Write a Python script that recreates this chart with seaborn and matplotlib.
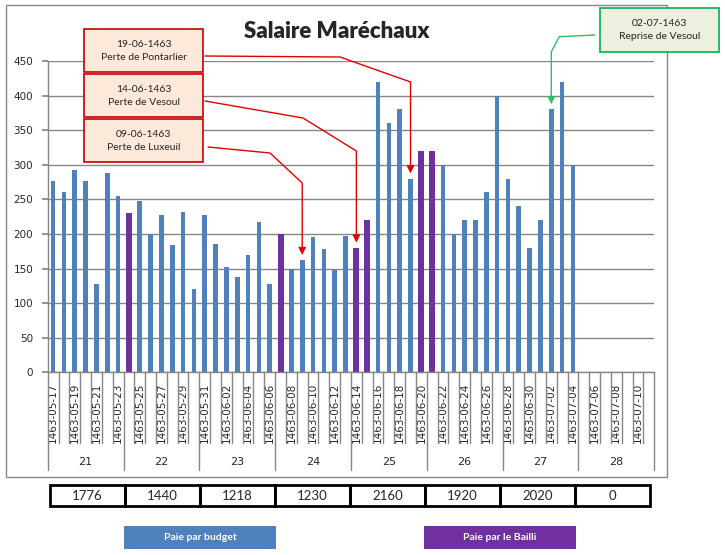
import matplotlib
matplotlib.use("Agg")
import matplotlib.pyplot as plt
import matplotlib.transforms as mtransforms
from matplotlib.patches import Rectangle, Polygon
from matplotlib.lines import Line2D
import seaborn as sns
import pandas as pd
import numpy as np

# ---------------- data ----------------
dates = ([f"1463-05-{d:02d}" for d in range(17, 32)]
         + [f"1463-06-{d:02d}" for d in range(1, 31)]
         + [f"1463-07-{d:02d}" for d in range(1, 12)])

values = [276, 261, 292, 276, 128, 288, 255,
          230, 247, 200, 228, 184, 231, 120,
          228, 186, 152, 138, 169, 217, 128,
          200, 150, 162, 195, 178, 148, 197,
          180, 220, 420, 360, 380, 280, 320,
          320, 300, 200, 220, 220, 260, 400,
          280, 240, 180, 220, 380, 420, 300]

payer = ["budget"] * 7 + \
        ["bailli"] + ["budget"] * 6 + \
        ["budget"] * 7 + \
        ["bailli"] + ["budget"] * 6 + \
        ["bailli", "bailli", "budget", "budget", "budget", "budget", "bailli"] + \
        ["bailli"] + ["budget"] * 6 + \
        ["budget"] * 7

weeks = ["21", "22", "23", "24", "25", "26", "27", "28"]
week_totals = [1776, 1440, 1218, 1230, 2160, 1920, 2020, 0]

title = "Salaire Maréchaux"
legend_labels = ["Paie par budget", "Paie par le Bailli"]

# annotations: (date, line1, line2)
red_notes = [("1463-06-19", "19-06-1463", "Perte de Pontarlier"),
             ("1463-06-14", "14-06-1463", "Perte de Vesoul"),
             ("1463-06-09", "09-06-1463", "Perte de Luxeuil")]
green_note = ("1463-07-02", "02-07-1463", "Reprise de Vesoul")

BLUE = "#4f81bd"
PURPLE = "#7030a0"
GRID = "#868686"

df = pd.DataFrame({"date": dates[:len(values)], "value": values, "payer": payer})

# ---------------- figure ----------------
sns.set_theme(style="white")
plt.rcParams["font.family"] = ["DejaVu Sans"]

W, H = 725, 555
fig = plt.figure(figsize=(W / 100, H / 100), dpi=100)
fig.patch.set_facecolor("white")

# pixel transform (x right, y down, origin top-left)
pix = mtransforms.Affine2D().scale(1 / W, -1 / H).translate(0, 1) + fig.transFigure

x_left, x_right, y_top, y_bot = 47.7, 654.2, 61.0, 372.3
ax = fig.add_axes([x_left / W, 1 - y_bot / H, (x_right - x_left) / W, (y_bot - y_top) / H])

sns.barplot(data=df[df.payer == "budget"], x="date", y="value", order=dates,
            color=BLUE, saturation=1, width=0.43, errorbar=None, ax=ax,
            linewidth=0, edgecolor="none")
sns.barplot(data=df[df.payer == "bailli"], x="date", y="value", order=dates,
            color=PURPLE, saturation=1, width=0.55, errorbar=None, ax=ax,
            linewidth=0, edgecolor="none")

ax.set_xlim(-0.5, len(dates) - 0.5)
ax.set_ylim(0, 450)
ax.set_yticks(np.arange(0, 451, 50))
ax.yaxis.grid(True, color=GRID, lw=1)
ax.set_axisbelow(True)
for s in ["top", "right"]:
    ax.spines[s].set_visible(False)
for s in ["left", "bottom"]:
    ax.spines[s].set_color(GRID)
    ax.spines[s].set_linewidth(1)
ax.set_facecolor("white")
ax.set_xlabel("")
ax.set_ylabel("")
ax.tick_params(axis="y", length=4, color=GRID, direction="out", labelsize=7.5,
               pad=6.5, left=True)
ax.set_xticks(range(0, len(dates), 2))
ax.set_xticklabels(dates[0::2], rotation=90, fontsize=7.5)
ax.tick_params(axis="x", length=0, pad=7.5, bottom=False)

# category separators
blend = mtransforms.blended_transform_factory(ax.transData, pix)
for b in range(len(dates) + 1):
    xb = b - 0.5
    y_end = 470 if b % 7 == 0 else 443
    fig.add_artist(Line2D([xb, xb], [y_bot, y_end], transform=blend, color=GRID, lw=1))

# week labels
for i, wk in enumerate(weeks):
    fig.text(i * 7 + 3, 462, wk, transform=blend, ha="center", va="center", fontsize=8)

# outer frame
fig.add_artist(Rectangle((6, 5), 661, 472, transform=pix, fill=False,
                         edgecolor=GRID, lw=1))

# title
fig.text(337, 31, title, transform=pix, ha="center", va="center",
         fontsize=16, fontweight="heavy", family=["Lato", "DejaVu Sans"])

# weekly totals table
for i, tot in enumerate(week_totals):
    x0 = 50 + 75 * i
    fig.add_artist(Rectangle((x0, 485), 75, 21, transform=pix, fill=False,
                             edgecolor="black", lw=2))
    fig.text(x0 + 37.5, 496, str(tot), transform=pix, ha="center", va="center",
             fontsize=9.5, family=["Lato", "DejaVu Sans"])

# legend buttons
for (x0, col, lab) in [(124, BLUE, legend_labels[0]), (424, PURPLE, legend_labels[1])]:
    fig.add_artist(Rectangle((x0, 526), 152, 22.5, transform=pix, facecolor=col,
                             edgecolor="none"))
    fig.text(x0 + 76, 537.5, lab, transform=pix, ha="center", va="center",
             fontsize=7.5, fontweight="bold", color="white", family=["Lato", "DejaVu Sans"])

fig.canvas.draw()


def tip_of(date):
    i = dates.index(date)
    v = values[i]
    dx, dy = ax.transData.transform((i, v))
    return dx, H - dy - 6


def arrow(points, color):
    xs = [p[0] for p in points]
    ys = [p[1] for p in points]
    tx, ty = points[-1]
    fig.add_artist(Line2D(xs[:-1] + [tx], ys[:-1] + [ty - 5], transform=pix,
                          color=color, lw=1))
    fig.add_artist(Polygon([(tx - 3.5, ty - 7), (tx + 3.5, ty - 7), (tx, ty)],
                           closed=True, transform=pix, facecolor=color,
                           edgecolor=color, lw=0.5))


def box(x0, y0, w, h, l1, l2, fc, ec):
    fig.add_artist(Rectangle((x0, y0), w, h, transform=pix, facecolor=fc,
                             edgecolor=ec, lw=1.2))
    fig.text(x0 + w / 2, y0 + h * 0.35, l1, transform=pix, ha="center", va="center",
             fontsize=7.5, family=["Lato", "DejaVu Sans"])
    fig.text(x0 + w / 2, y0 + h * 0.65, l2, transform=pix, ha="center", va="center",
             fontsize=7.5, family=["Lato", "DejaVu Sans"])


box_y = [29.3, 74.3, 119.3]
bends = [[(205, 56), (340, 57)],
         [(205, 101), (303, 118)],
         [(208, 147), (270, 153)]]
drops = [25, 33, 30]
for (d, l1, l2), by, bd, dr in zip(red_notes, box_y, bends, drops):
    box(84.3, by, 119, 43, l1, l2, "#fde9d9", "#c00000")
    tx, ty = tip_of(d)
    pts = bd + [(tx, bd[-1][1] + dr), (tx, ty)]
    arrow(pts, "#e00000")

# green note
box(600.3, 8.3, 119, 43.4, green_note[1], green_note[2], "#ebf1de", "#00b050")
gx, gy = tip_of(green_note[0])
arrow([(595, 35), (559.3, 36.7), (gx, 51.7), (gx, gy)], "#2fbf60")

fig.savefig("out.png", dpi=100)
